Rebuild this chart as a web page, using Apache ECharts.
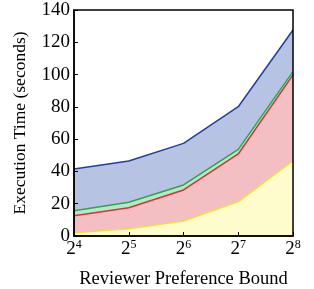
<!DOCTYPE html>
<html>
<head>
<meta charset="utf-8">
<script src="https://cdn.jsdelivr.net/npm/echarts@6/dist/echarts.min.js"></script>
<style>
  html, body { margin: 0; padding: 0; background: #fff; }
  #chart { width: 314px; height: 289px; }
</style>
</head>
<body>
<div id="chart"></div>
<script>
// exponents of the x categories (2^4 .. 2^8)
const exponents = ['4', '5', '6', '7', '8'];
// stacked layers, bottom to top (seconds added by each layer)
const layerYellow = [2.0, 4.5, 9.3, 21.3, 46.7];
const layerRed = [10.6, 13.0, 19.2, 29.5, 53.1];
const layerGreen = [3.1, 3.4, 3.1, 2.9, 2.0];
const layerBlue = [25.8, 25.6, 25.8, 26.4, 25.8];
const yTicks = [0, 20, 40, 60, 80, 100, 120, 140];

var myChart = echarts.init(document.getElementById('chart'));

var font = 'Liberation Serif';

function layer(data, line, fill) {
  return {
    type: 'line',
    stack: 'total',
    data: data,
    symbol: 'none',
    lineStyle: { color: line, width: 1.5 },
    areaStyle: { color: fill, opacity: 1 },
    z: 1
  };
}

var option = {
  animation: false,
  // grid border drawn above the areas gives the closed box
  grid: {
    left: 74, right: 21, top: 10, bottom: 53,
    outerBoundsMode: 'none',
    containLabel: false,
    show: true, z: 3,
    backgroundColor: 'transparent',
    borderColor: '#000', borderWidth: 1.5
  },
  xAxis: {
    type: 'category',
    data: exponents,
    boundaryGap: false,
    z: 5,
    name: 'Reviewer Preference Bound',
    nameLocation: 'middle',
    nameGap: 34,
    nameTextStyle: { fontFamily: font, fontSize: 18.5, color: '#000' },
    axisLine: { show: true, onZero: false, lineStyle: { color: '#000', width: 1.5 } },
    axisTick: { show: true, inside: true, length: 4, interval: 0, lineStyle: { color: '#000' } },
    axisLabel: {
      margin: 3,
      interval: 0,
      formatter: function (v) { return '{b|2}{s|' + v + '}'; },
      rich: {
        b: { fontFamily: font, fontSize: 19, color: '#000', verticalAlign: 'bottom', lineHeight: 18 },
        s: { fontFamily: font, fontSize: 12, color: '#000', verticalAlign: 'top', padding: [0, 0, 8, 0] }
      }
    },
    splitLine: { show: false }
  },
  yAxis: {
    type: 'value',
    min: 0,
    max: 140,
    interval: 20,
    z: 5,
    name: 'Execution Time (seconds)',
    nameLocation: 'middle',
    nameGap: 45,
    nameTextStyle: { fontFamily: font, fontSize: 17.5, color: '#000' },
    axisLine: { show: true, onZero: false, lineStyle: { color: '#000', width: 1.5 } },
    axisTick: { show: true, inside: true, length: 4, lineStyle: { color: '#000' } },
    axisLabel: {
      margin: 4,
      fontFamily: font,
      fontSize: 19,
      color: '#000',
      formatter: function (v) { return yTicks.indexOf(v) >= 0 ? String(v) : ''; }
    },
    splitLine: { show: false }
  },
  series: [
    layer(layerYellow, '#eee03a', '#fefbcc'),
    layer(layerRed, '#d2323e', '#f4bfc3'),
    layer(layerGreen, '#2aa84a', '#bce6c3'),
    layer(layerBlue, '#213f9f', '#b7c3e3')
  ]
};

myChart.setOption(option);
</script>
</body>
</html>
